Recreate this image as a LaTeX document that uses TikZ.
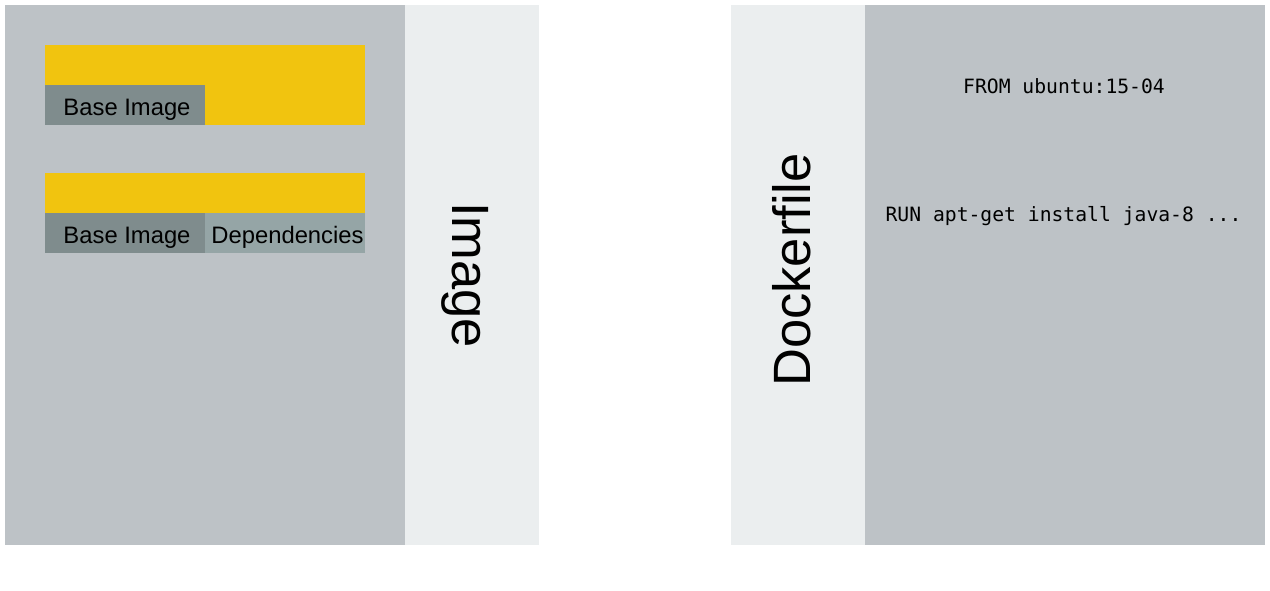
\documentclass[tikz,border=0pt]{standalone}
\usepackage{fontspec}
\setmainfont{Liberation Sans}
\setmonofont{DejaVu Sans Mono}
\definecolor{panel}{HTML}{BDC2C6}
\definecolor{strip}{HTML}{EBEEEF}
\definecolor{ylw}{HTML}{F1C40F}
\definecolor{base}{HTML}{7F8C8D}
\definecolor{deps}{HTML}{95A5A6}
\tikzset{
  lbl/.style={font=\fontsize{23.8}{26}\selectfont, inner sep=0pt, text=black, anchor=base},
  big/.style={font=\fontsize{52.5}{56}\selectfont, inner sep=0pt, text=black},
  code/.style={font=\ttfamily\fontsize{19.7}{22}\selectfont, inner sep=0pt, text=black, anchor=base}
}
\begin{document}
\begin{tikzpicture}[x=1pt,y=-1pt]
\useasboundingbox (0,0) rectangle (1270,590);
% left panel
\fill[panel] (5,5) rectangle (405,545);
\fill[strip] (405,5) rectangle (539,545);
% right panel
\fill[strip] (731,5) rectangle (865,545);
\fill[panel] (865,5) rectangle (1265,545);
% layer box 1
\fill[ylw] (45,45) rectangle (365,125);
\fill[base] (45,85) rectangle (205,125);
\node[lbl] (b1) at (127,115) {Base Image};
% layer box 2
\fill[ylw] (45,173) rectangle (365,213);
\fill[base] (45,213) rectangle (205,253);
\fill[deps] (205,213) rectangle (365,253);
\node[lbl] (b2) at (127,243) {Base Image};
\node[lbl] (d2) at (287.5,243) {Dependencies};
% vertical labels
\node[big, rotate=-90] (img) at (465,275) {Image};
\node[big, rotate=90] (dock) at (792,270) {Dockerfile};
% code
\node[code] (from) at (1064,93) {FROM ubuntu:15-04};
\node[code] (run) at (1063.5,221) {RUN apt-get install java-8 ...};
\end{tikzpicture}
\end{document}
